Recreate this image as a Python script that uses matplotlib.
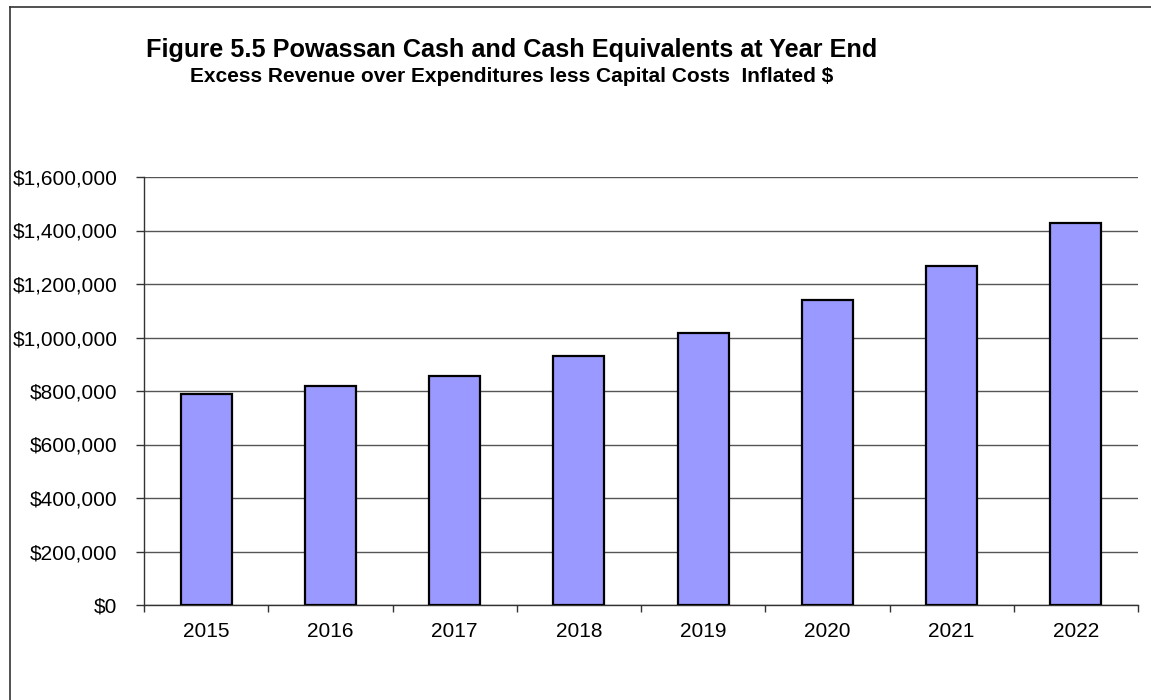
import numpy as np
import matplotlib
matplotlib.use("Agg")
import matplotlib.pyplot as plt
from matplotlib.lines import Line2D
from matplotlib.ticker import FuncFormatter, FixedLocator

years = ["2015", "2016", "2017", "2018", "2019", "2020", "2021", "2022"]
cash = [788000, 820000, 856000, 931000, 1016000, 1139000, 1267000, 1427000]

title = "Figure 5.5 Powassan Cash and Cash Equivalents at Year End"
subtitle = "Excess Revenue over Expenditures less Capital Costs  Inflated $"

plt.rcParams["font.family"] = ["Liberation Sans", "DejaVu Sans"]

W, H = 1151, 700
fig = plt.figure(figsize=(W / 100, H / 100), dpi=100)
fig.patch.set_facecolor("white")

# chart area frame (top and left edges only)
fig.add_artist(Line2D([9.5 / W, 9.5 / W], [0, 1 - 6.5 / H], transform=fig.transFigure,
                      color="#333333", lw=1.2))
fig.add_artist(Line2D([9.5 / W, 1], [1 - 6.5 / H, 1 - 6.5 / H], transform=fig.transFigure,
                      color="#333333", lw=1.2))

ax = fig.add_axes([144 / W, 1 - 605 / H, (1138 - 144) / W, (605 - 177) / H])

x = np.arange(len(years))
ax.bar(x, cash, width=0.41, color="#9999FF", edgecolor="black", linewidth=1.6, zorder=3)

ax.set_xlim(-0.5, len(years) - 0.5)
ax.set_ylim(0, 1600000)
ax.set_yticks(np.arange(0, 1600001, 200000))
ax.yaxis.set_major_formatter(FuncFormatter(lambda v, p: f"${v:,.0f}"))
ax.yaxis.grid(True, color="#555555", linewidth=1.0, zorder=0)

# year labels centred under bars, ticks on category boundaries
ax.xaxis.set_major_locator(FixedLocator(np.arange(-0.5, len(years), 1.0)))
ax.set_xticklabels([])
ax.set_xticks(x, minor=True)
ax.set_xticklabels(years, minor=True)
ax.tick_params(axis="x", which="minor", length=0, pad=12, labelsize=15)
ax.tick_params(axis="x", which="major", length=5, width=1, color="#333333", direction="out")
ax.tick_params(axis="y", length=6, width=1, color="#333333", pad=13, labelsize=15)

for side in ("top", "right"):
    ax.spines[side].set_visible(False)
for side in ("left", "bottom"):
    ax.spines[side].set_color("#333333")
    ax.spines[side].set_linewidth(1.0)

fig.text(511.5 / W, 1 - 57 / H, title, ha="center", va="baseline",
         fontsize=18.2, fontweight="bold")
fig.text(511.5 / W, 1 - 82 / H, subtitle, ha="center", va="baseline",
         fontsize=15, fontweight="bold")

fig.savefig("out.png", dpi=100)
